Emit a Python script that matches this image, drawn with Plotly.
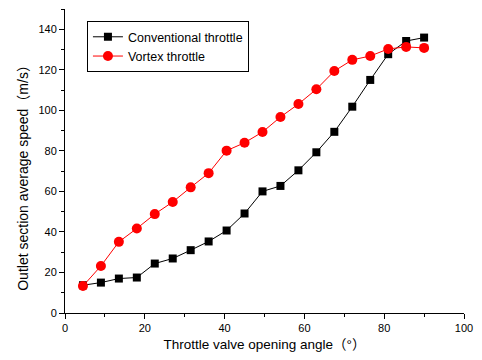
import plotly.graph_objects as go

angle = [4.5, 9, 13.5, 18, 22.5, 27, 31.5, 36, 40.5, 45, 49.5, 54, 58.5, 63, 67.5, 72, 76.5, 81, 85.5, 90]
conventional = [13.7, 15.0, 17.0, 17.5, 24.4, 26.9, 31.0, 35.3, 40.7, 49.1, 60.0, 62.7, 70.4, 79.3,
                89.4, 101.8, 115.0, 127.7, 134.2, 135.9]
vortex = [13.3, 23.2, 35.1, 41.7, 48.8, 54.8, 62.0, 69.0, 80.1, 84.0, 89.3, 96.7, 103.1, 110.4,
          119.4, 124.9, 126.8, 130.3, 131.3, 130.8]

FONT = "Arial, Liberation Sans, Noto Sans CJK SC"

fig = go.Figure()
fig.add_trace(go.Scatter(x=angle, y=conventional, mode="lines+markers", name="Conventional throttle",
                         line=dict(color="black", width=1),
                         marker=dict(symbol="square", size=8, color="black")))
fig.add_trace(go.Scatter(x=angle, y=vortex, mode="lines+markers", name="Vortex throttle",
                         line=dict(color="red", width=1),
                         marker=dict(symbol="circle", size=10, color="red")))

axis_common = dict(showline=True, linecolor="black", linewidth=1, ticks="outside", ticklen=5,
                   tickcolor="black", showgrid=False, zeroline=False, mirror=False,
                   tickfont=dict(family=FONT, size=11, color="black"),
                   minor=dict(ticks="outside", ticklen=3, tickcolor="black", showgrid=False))

fig.update_xaxes(range=[0, 100], dtick=20, tick0=0, minor_dtick=10,
                 title=dict(text="Throttle valve opening angle（°）",
                            font=dict(family=FONT, size=13.5, color="black"),
                            standoff=6),
                 **axis_common)
fig.update_yaxes(range=[0, 150], dtick=20, tick0=0, minor_dtick=10, **axis_common)

fig.add_annotation(text="Outlet section average speed（m/s）", textangle=-90,
                   xref="paper", yref="paper", x=-0.105, y=0.455,
                   xanchor="center", yanchor="middle", showarrow=False,
                   font=dict(family=FONT, size=14, color="black"))

fig.update_layout(
    width=482, height=360,
    margin=dict(l=65, r=14, t=9, b=47),
    paper_bgcolor="white", plot_bgcolor="white",
    font=dict(family=FONT, color="black"),
    legend=dict(x=0.055, y=0.96, xanchor="left", yanchor="top",
                bordercolor="black", borderwidth=1, bgcolor="white",
                font=dict(family=FONT, size=12.5, color="black"),
                tracegroupgap=0, itemwidth=30),
    showlegend=True,
)

fig.write_html("out.html")
